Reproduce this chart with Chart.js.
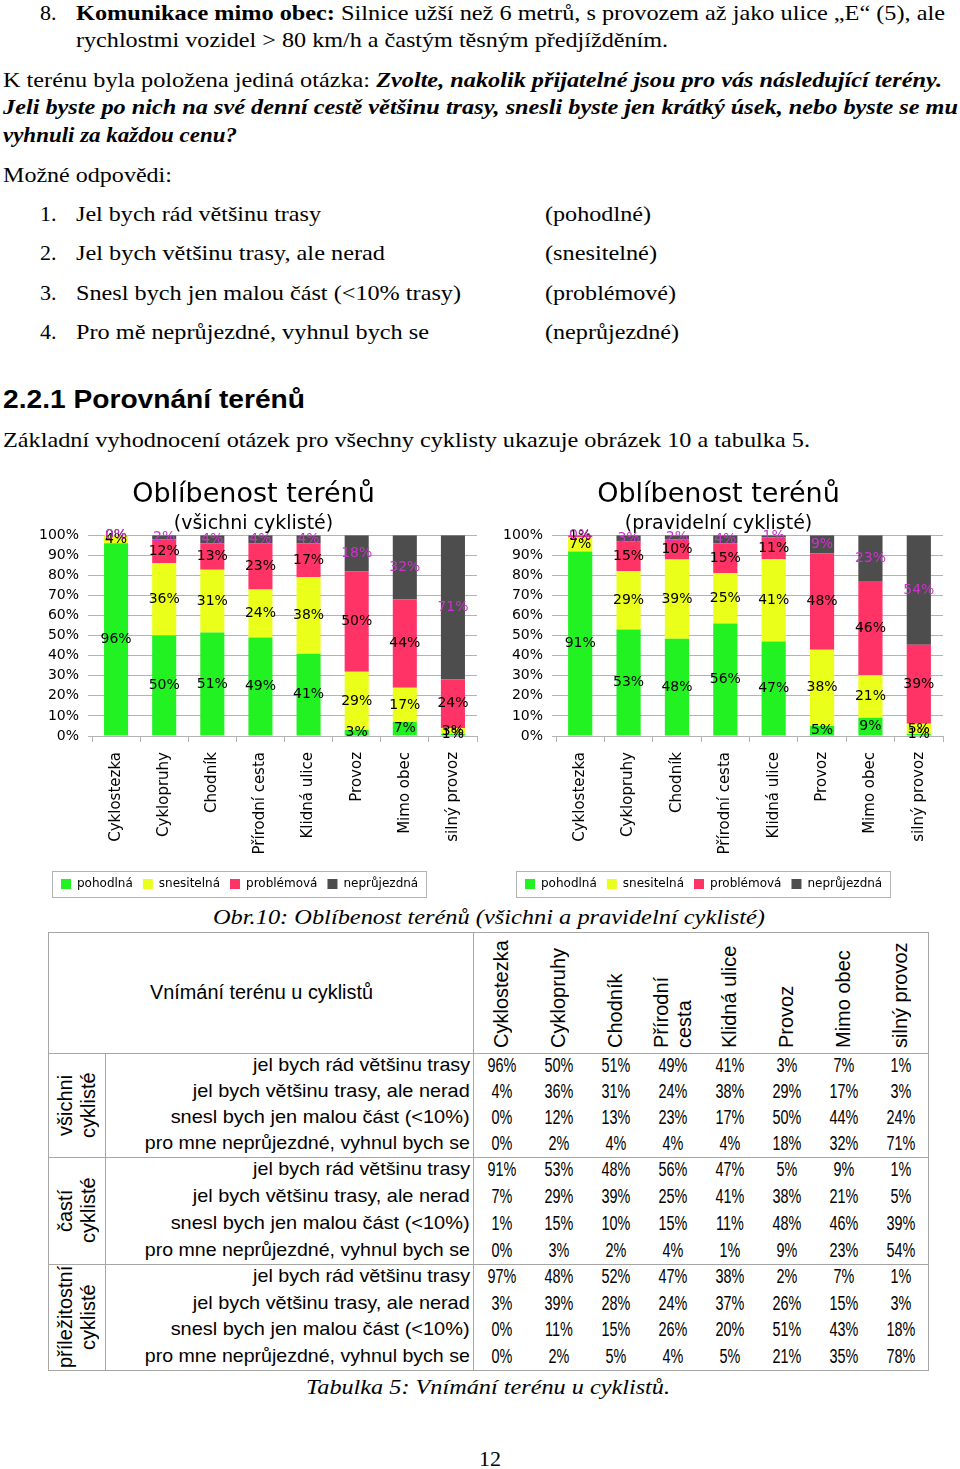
<!DOCTYPE html>
<html lang="cs">
<head>
<meta charset="utf-8">
<title>Oblíbenost terénů</title>
<script src="https://cdn.jsdelivr.net/npm/chart.js@4.4.1/dist/chart.umd.min.js"></script>
<style>
  html, body { margin: 0; padding: 0; background: #fff; }
  #strana { position: relative; width: 960px; height: 1469px; overflow: hidden; font-family: "Liberation Serif", "Times New Roman", "Nimbus Roman", serif; color: #000; }
  .t { position: absolute; white-space: nowrap; font-size: 22px; line-height: 28px; transform-origin: left center; }
  .nadpis { position: absolute; white-space: nowrap; font-family: "Liberation Sans", Arial, sans-serif; font-weight: bold; font-size: 26px; line-height: 30px; transform-origin: left center; }
  .tb { position: absolute; white-space: nowrap; font-family: "Liberation Sans Narrow", "Liberation Sans", sans-serif; font-size: 19px; line-height: 26px; }
  .hodnota { font-size: 20px; transform: scaleX(0.72); transform-origin: center center; }
  .svisle { position: absolute; font-family: "Liberation Sans", Arial, sans-serif; font-size: 20px; line-height: 23px; writing-mode: vertical-rl; transform: rotate(180deg); }
  .cara { position: absolute; background: #a6a6a6; }
  canvas { position: absolute; }
</style>
</head>
<body>
<div id="strana">
  <div class="t" style="left:40px;top:-1px">8.</div>
  <div class="t" style="left:76px;top:-1px" data-w="869"><b>Komunikace mimo obec:</b> Silnice užší než 6 metrů, s provozem až jako ulice „E“ (5), ale</div>
  <div class="t" style="left:76px;top:26px" data-w="592">rychlostmi vozidel &gt; 80 km/h a častým těsným předjížděním.</div>
  <div class="t" style="left:3px;top:66px" data-w="939">K terénu byla položena jediná otázka: <b><i>Zvolte, nakolik přijatelné jsou pro vás následující terény.</i></b></div>
  <div class="t" style="left:3px;top:93px" data-w="955"><b><i>Jeli byste po nich na své denní cestě většinu trasy, snesli byste jen krátký úsek, nebo byste se mu</i></b></div>
  <div class="t" style="left:3px;top:121px" data-w="234"><b><i>vyhnuli za každou cenu?</i></b></div>
  <div class="t" style="left:3px;top:161px" data-w="169">Možné odpovědi:</div>

  <div class="t" style="left:40px;top:200px">1.</div>
  <div class="t" style="left:76px;top:200px" data-w="245">Jel bych rád většinu trasy</div>
  <div class="t" style="left:545px;top:200px" data-w="106">(pohodlné)</div>
  <div class="t" style="left:40px;top:239px">2.</div>
  <div class="t" style="left:76px;top:239px" data-w="309">Jel bych většinu trasy, ale nerad</div>
  <div class="t" style="left:545px;top:239px" data-w="112">(snesitelné)</div>
  <div class="t" style="left:40px;top:279px">3.</div>
  <div class="t" style="left:76px;top:279px" data-w="385">Snesl bych jen malou část (&lt;10% trasy)</div>
  <div class="t" style="left:545px;top:279px" data-w="131">(problémové)</div>
  <div class="t" style="left:40px;top:318px">4.</div>
  <div class="t" style="left:76px;top:318px" data-w="353">Pro mě neprůjezdné, vyhnul bych se</div>
  <div class="t" style="left:545px;top:318px" data-w="134">(neprůjezdné)</div>

  <div class="nadpis" style="left:3px;top:384px" data-w="302">2.2.1 Porovnání terénů</div>
  <div class="t" style="left:3px;top:426px" data-w="807">Základní vyhodnocení otázek pro všechny cyklisty ukazuje obrázek 10 a tabulka 5.</div>

  <canvas id="grafVsichni" width="455" height="430" style="left:30px;top:470px"></canvas>
  <canvas id="grafPravidelni" width="457" height="430" style="left:494px;top:470px"></canvas>

  <div class="t" style="left:213px;top:903px" data-w="552"><i>Obr.10: Oblíbenost terénů (všichni a pravidelní cyklisté)</i></div>

  <div id="tabulka"></div>

  <div class="t" style="left:306px;top:1373px" data-w="364"><i>Tabulka 5: Vnímání terénu u cyklistů.</i></div>
  <div class="t" style="left:479px;top:1445px">12</div>
</div>

<script>
const terreny = ['Cyklostezka', 'Cyklopruhy', 'Chodník', 'Přírodní cesta', 'Klidná ulice', 'Provoz', 'Mimo obec', 'silný provoz'];
const kategorie = ['pohodlná', 'snesitelná', 'problémová', 'neprůjezdná'];
const barvy = ['#22f222', '#eaff1a', '#ff3366', '#4d4d4d'];
const odpovedi = ['jel bych rád většinu trasy', 'jel bych většinu trasy, ale nerad', 'snesl bych jen malou část (<10%)', 'pro mne neprůjezdné, vyhnul bych se'];
const skupiny = ['všichni cyklisté', 'častí cyklisté', 'příležitostní cyklisté'];

const vsichniPohodlna = [96, 50, 51, 49, 41, 3, 7, 1];
const vsichniSnesitelna = [4, 36, 31, 24, 38, 29, 17, 3];
const vsichniProblemova = [0, 12, 13, 23, 17, 50, 44, 24];
const vsichniNeprujezdna = [0, 2, 4, 4, 4, 18, 32, 71];

const castiPohodlna = [91, 53, 48, 56, 47, 5, 9, 1];
const castiSnesitelna = [7, 29, 39, 25, 41, 38, 21, 5];
const castiProblemova = [1, 15, 10, 15, 11, 48, 46, 39];
const castiNeprujezdna = [0, 3, 2, 4, 1, 9, 23, 54];

const prilezitostniPohodlna = [97, 48, 52, 47, 38, 2, 7, 1];
const prilezitostniSnesitelna = [3, 39, 28, 24, 37, 26, 15, 3];
const prilezitostniProblemova = [0, 11, 15, 26, 20, 51, 43, 18];
const prilezitostniNeprujezdna = [0, 2, 5, 4, 5, 21, 35, 78];

// popisky procent uprostred useku
const popisky = {
    id: 'popisky',
    afterDatasetsDraw(chart) {
        const ctx = chart.ctx;
        ctx.save();
        ctx.font = '14px "DejaVu Sans"';
        ctx.textAlign = 'center';
        ctx.textBaseline = 'middle';
        chart.data.datasets.forEach((ds, i) => {
            ctx.fillStyle = i === 3 ? '#cc33cc' : '#000';
            chart.getDatasetMeta(i).data.forEach((bar, j) => {
                ctx.fillText(ds.puvodni[j] + '%', bar.x, (bar.y + bar.base) / 2);
            });
        });
        ctx.restore();
    }
};

// legenda posunuta doprava + ramecek kolem ni
const ramecek = {
    id: 'ramecek',
    afterLayout(chart) {
        chart.legend.left += 21;
    },
    afterDraw(chart) {
        const boxy = chart.legend.legendHitBoxes;
        if (!boxy.length) return;
        const vlevo = Math.min(...boxy.map(b => b.left)) - 9;
        const vpravo = Math.max(...boxy.map(b => b.left + b.width)) + 8;
        const nahore = boxy[0].top - 7;
        const dole = boxy[0].top + boxy[0].height + 7;
        const ctx = chart.ctx;
        ctx.save();
        ctx.strokeStyle = '#b3b3b3';
        ctx.lineWidth = 1;
        ctx.strokeRect(Math.round(vlevo) + 0.5, Math.round(nahore) + 0.5, Math.round(vpravo - vlevo), Math.round(dole - nahore));
        ctx.restore();
    }
};

Chart.defaults.font.family = '"DejaVu Sans", sans-serif';
Chart.defaults.color = '#000';

function vytvorGraf(id, podtitul, rady) {
    const soucty = terreny.map((_, j) => rady.reduce((s, r) => s + r[j], 0));
    new Chart(document.getElementById(id), {
        type: 'bar',
        data: {
            labels: terreny,
            datasets: rady.map((r, i) => ({
                label: kategorie[i],
                data: r.map((v, j) => v / soucty[j] * 100),
                puvodni: r,
                backgroundColor: barvy[i],
                borderWidth: 0,
                categoryPercentage: 1,
                barPercentage: 0.5
            }))
        },
        options: {
            responsive: false,
            animation: false,
            layout: { padding: { left: 0, right: 8, top: 0, bottom: 0 } },
            plugins: {
                title: {
                    display: true,
                    text: 'Oblíbenost terénů',
                    color: '#000',
                    font: { size: 27, weight: 'normal' },
                    padding: { top: 9, bottom: 0 }
                },
                subtitle: {
                    display: true,
                    text: podtitul,
                    color: '#000',
                    font: { size: 19 },
                    padding: { top: 1, bottom: 0 }
                },
                legend: {
                    position: 'bottom',
                    align: 'start',
                    labels: {
                        boxWidth: 10,
                        boxHeight: 10,
                        padding: 10,
                        color: '#000',
                        font: { size: 12 }
                    }
                },
                tooltip: { enabled: false }
            },
            scales: {
                x: {
                    stacked: true,
                    afterFit: osa => { osa.height = 132; },
                    ticks: {
                        maxRotation: 90,
                        minRotation: 90,
                        padding: 10,
                        font: { size: 15 }
                    },
                    grid: {
                        drawOnChartArea: false,
                        drawTicks: true,
                        tickLength: 6,
                        color: '#b3b3b3'
                    },
                    border: { display: true, color: '#b3b3b3' }
                },
                y: {
                    stacked: true,
                    min: 0,
                    max: 100,
                    afterFit: osa => { osa.width = 62; },
                    ticks: {
                        stepSize: 10,
                        padding: 9,
                        font: { size: 14 },
                        callback: v => v + '%'
                    },
                    grid: { color: '#b3b3b3', tickLength: 4 },
                    border: { display: false }
                }
            }
        },
        plugins: [popisky, ramecek]
    });
}

vytvorGraf('grafVsichni', '(všichni cyklisté)', [vsichniPohodlna, vsichniSnesitelna, vsichniProblemova, vsichniNeprujezdna]);
vytvorGraf('grafPravidelni', '(pravidelní cyklisté)', [castiPohodlna, castiSnesitelna, castiProblemova, castiNeprujezdna]);

// tabulka 5
const tabulka = document.getElementById('tabulka');
const data = [
    [vsichniPohodlna, vsichniSnesitelna, vsichniProblemova, vsichniNeprujezdna],
    [castiPohodlna, castiSnesitelna, castiProblemova, castiNeprujezdna],
    [prilezitostniPohodlna, prilezitostniSnesitelna, prilezitostniProblemova, prilezitostniNeprujezdna]
];
const hraniceSkupin = [1053, 1157, 1264, 1370];
const sloupec = i => 473 + 57 * i + 28.5;

function pridej(trida, styl, text) {
    const el = document.createElement('div');
    el.className = trida;
    el.style.cssText = styl;
    if (text !== undefined) el.textContent = text;
    tabulka.appendChild(el);
    return el;
}

pridej('cara', 'left:48px;top:932px;width:881px;height:1px');
pridej('cara', 'left:48px;top:1370px;width:881px;height:1px');
pridej('cara', 'left:48px;top:932px;width:1px;height:439px');
pridej('cara', 'left:928px;top:932px;width:1px;height:439px');
pridej('cara', 'left:473px;top:932px;width:1px;height:439px');
pridej('cara', 'left:105px;top:1053px;width:1px;height:317px');
hraniceSkupin.slice(0, 3).forEach(y => pridej('cara', `left:48px;top:${y}px;width:881px;height:1px`));

const hlavicka = pridej('tb', 'left:150px;top:979px;font-size:20px;transform-origin:left center', 'Vnímání terénu u cyklistů');
hlavicka.dataset.w = 223;

terreny.forEach((nazev, i) => {
    const el = pridej('svisle', 'top:935px;height:113px;text-align:start', nazev);
    el.style.left = (sloupec(i) - el.offsetWidth / 2) + 'px';
});

skupiny.forEach((nazev, g) => {
    const y0 = hraniceSkupin[g], y1 = hraniceSkupin[g + 1];
    const el = pridej('svisle', `top:${y0 + 1}px;height:${y1 - y0 - 2}px;text-align:center`, nazev);
    el.style.left = (76.5 - el.offsetWidth / 2) + 'px';
    const krok = (y1 - y0) / 4;
    odpovedi.forEach((txt, r) => {
        const yc = y0 + krok * (r + 0.5);
        const lab = pridej('tb', `right:${960 - 470}px;top:${yc - 14}px;transform-origin:right center`, txt);
        lab.dataset.w = [217, 277, 299, 325][r];
        data[g][r].forEach((v, i) => {
            pridej('tb hodnota', `left:${sloupec(i) - 30}px;width:60px;text-align:center;top:${yc - 14}px`, v + '%');
        });
    });
});

// prizpusobeni sirky radku textu
document.querySelectorAll('[data-w]').forEach(el => {
    const w = el.getBoundingClientRect().width;
    el.style.transform = 'scaleX(' + (Number(el.dataset.w) / w) + ')';
});
</script>
</body>
</html>
